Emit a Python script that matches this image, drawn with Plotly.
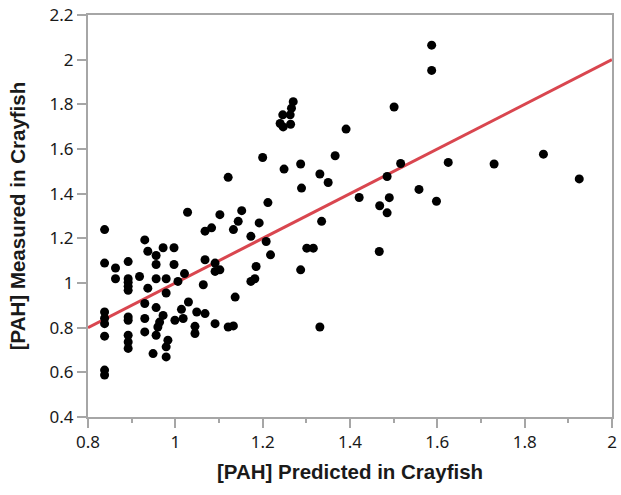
import plotly.graph_objects as go

# Predicted [PAH] (x) and measured [PAH] (y) in crayfish
x_pred = [0.838, 0.838, 0.838, 0.838, 0.838, 0.838, 0.838, 0.838,
          0.863, 0.863,
          0.892, 0.892, 0.892, 0.892, 0.892, 0.892, 0.892, 0.892, 0.892, 0.892,
          0.918, 0.930, 0.930, 0.930, 0.930, 0.937, 0.937, 0.949,
          0.956, 0.956, 0.956, 0.956, 0.956,
          0.972, 0.972, 0.964, 0.960,
          0.979, 0.979, 0.983, 0.979, 0.979,
          0.997, 0.997, 0.999,
          1.006, 1.021, 1.014, 1.018, 1.030, 1.028,
          1.049, 1.045, 1.045,
          1.068, 1.068, 1.064, 1.068,
          1.083, 1.091, 1.091, 1.102, 1.091, 1.102,
          1.121, 1.121, 1.133, 1.133, 1.144, 1.137, 1.152,
          1.173, 1.192, 1.185, 1.182, 1.173,
          1.200, 1.208, 1.218, 1.212,
          1.270, 1.266, 1.263, 1.246, 1.240, 1.247, 1.264,
          1.249, 1.287, 1.289, 1.287, 1.301, 1.316,
          1.331, 1.350, 1.335, 1.331, 1.366, 1.391, 1.421,
          1.485, 1.490, 1.468, 1.485, 1.467, 1.501, 1.516,
          1.558, 1.598, 1.587, 1.587, 1.625, 1.730, 1.843, 1.925]

y_meas = [1.239, 1.089, 0.870, 0.842, 0.818, 0.762, 0.610, 0.588,
          1.067, 1.019,
          1.096, 1.019, 1.003, 0.985, 0.967, 0.848, 0.833, 0.766, 0.736, 0.707,
          1.029, 1.193, 0.908, 0.841, 0.781, 1.142, 0.977, 0.684,
          1.123, 1.083, 1.019, 0.890, 0.766,
          1.158, 0.855, 0.825, 0.803,
          1.019, 0.955, 0.744, 0.714, 0.669,
          1.158, 1.083, 0.833,
          1.007, 1.042, 0.882, 0.841, 0.915, 1.317,
          0.870, 0.806, 0.774,
          1.232, 1.104, 0.992, 0.863,
          1.247, 1.089, 1.052, 1.059, 0.818, 1.306,
          1.473, 0.803, 0.808, 1.239, 1.276, 0.937, 1.324,
          1.209, 1.269, 1.074, 1.019, 1.007,
          1.562, 1.186, 1.126, 1.360,
          1.812, 1.783, 1.753, 1.753, 1.714, 1.699, 1.711,
          1.510, 1.533, 1.425, 1.059, 1.156, 1.156,
          1.488, 1.450, 1.276, 0.803, 1.570, 1.689, 1.383,
          1.477, 1.382, 1.346, 1.314, 1.141, 1.788, 1.535,
          1.419, 1.366, 2.065, 1.952, 1.540, 1.533, 1.577, 1.466]

# 1:1 reference line
line_x = [0.8, 2.0]
line_y = [0.8, 2.0]

fig = go.Figure()
fig.add_trace(go.Scatter(x=line_x, y=line_y, mode="lines",
                         line=dict(color="#d9464f", width=3),
                         showlegend=False, hoverinfo="skip"))
fig.add_trace(go.Scatter(x=x_pred, y=y_meas, mode="markers",
                         marker=dict(color="black", size=9),
                         showlegend=False, cliponaxis=False))

axis_common = dict(showline=True, linecolor="#a6a6a6", linewidth=2, mirror=True,
                   showgrid=False, zeroline=False,
                   ticks="outside", tickcolor="#a6a6a6", tickwidth=2, ticklen=9,
                   tickfont=dict(family="Noto Sans, Open Sans, sans-serif", size=17, color="#1a1a1a"))

title_font = dict(family="Liberation Sans, Arial, sans-serif", size=20.5, color="#1a1a1a", weight="bold")

fig.update_xaxes(range=[0.8, 2.0], dtick=0.2, tick0=0.8,
                 minor=dict(dtick=0.1, ticks="outside", ticklen=4, tickcolor="#a6a6a6", tickwidth=2),
                 title=dict(text="[PAH] Predicted in Crayfish", standoff=12, font=title_font),
                 **axis_common)
fig.update_yaxes(range=[0.4, 2.2], dtick=0.2, tick0=0.4,
                 title=dict(text="[PAH] Measured in Crayfish", standoff=18, font=title_font),
                 **axis_common)

fig.update_layout(width=621, height=495,
                  margin=dict(l=88, r=9, t=15, b=78, autoexpand=False),
                  paper_bgcolor="white", plot_bgcolor="white")

fig.write_html("out.html", config={"displayModeBar": False},
               post_script="document.body.style.margin='0';document.body.style.overflow='hidden';")
